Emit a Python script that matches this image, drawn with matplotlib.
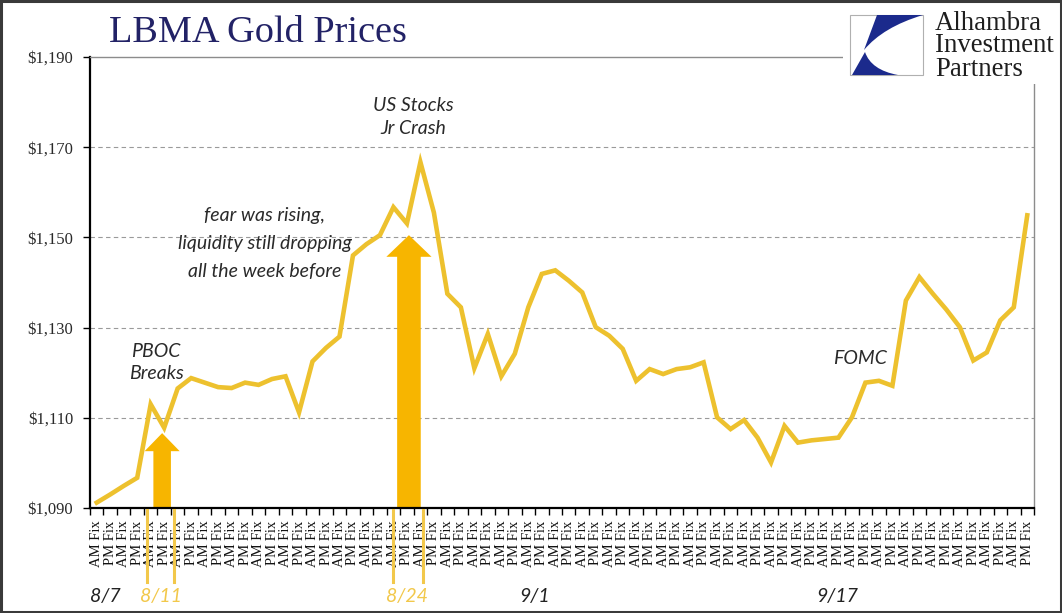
import matplotlib
matplotlib.use("Agg")
import matplotlib.pyplot as plt
from matplotlib.patches import Rectangle, Polygon, PathPatch
from matplotlib.path import Path
from matplotlib.transforms import blended_transform_factory

# ---- data -------------------------------------------------------------
sessions = ["AM Fix", "PM Fix"] * 35
prices = [
    1091.2, 1093.0, 1094.9, 1096.7, 1113.0, 1107.8, 1116.5, 1118.8, 1117.8, 1116.8,
    1116.6, 1117.8, 1117.3, 1118.6, 1119.2, 1111.2, 1122.5, 1125.5, 1128.0, 1146.0,
    1148.5, 1150.5, 1156.7, 1153.1, 1166.7, 1155.5, 1137.5, 1134.5, 1121.0, 1128.6,
    1119.2, 1124.2, 1134.5, 1141.9, 1142.7, 1140.4, 1137.8, 1130.1, 1128.2, 1125.3,
    1118.2, 1120.8, 1119.7, 1120.8, 1121.2, 1122.3, 1110.1, 1107.5, 1109.5, 1105.6,
    1100.1, 1108.2, 1104.5, 1105.0, 1105.3, 1105.6, 1110.1, 1117.8, 1118.2, 1117.1,
    1136.0, 1141.2, 1137.5, 1134.0, 1130.1, 1122.7, 1124.5, 1131.6, 1134.5, 1154.9,
]
y_ticks = [1090, 1110, 1130, 1150, 1170, 1190]
y_tick_labels = ["$1,090", "$1,110", "$1,130", "$1,150", "$1,170", "$1,190"]

date_labels = ["8/7", "8/11", "8/24", "9/1", "9/17"]
date_positions = [0.6, 4.75, 23.0, 32.5, 54.9]
date_highlight = [False, True, True, False, False]

# event markers: bracket lines under the axis, arrows rising to the event
event_brackets = [(3.75, 5.75), (22.0, 24.2)]
arrow_centres = [4.85, 23.15]
arrow_tips = [1106.6, 1150.5]

# (text, x, y, line spacing)
notes = [
    ("PBOC\nBreaks", 4.4, 1122.3, 1.4),
    ("fear was rising,\nliquidity still dropping\nall the week before", 12.45, 1148.6, 1.78),
    ("US Stocks\nJr Crash", 23.45, 1176.7, 1.45),
    ("FOMC", 56.6, 1123.2, 1.2),
]

# ---- style ------------------------------------------------------------
LINE_GOLD = "#EDC12E"
ARROW_GOLD = "#F7B500"
DATE_GOLD = "#F2C84B"
NAVY = "#222266"
LOGO_BLUE = "#1B2A8C"
SERIF = ["Liberation Serif", "DejaVu Serif"]
NOTE_FONT = ["Lato", "DejaVu Sans"]

W, H = 1062, 613
fig = plt.figure(figsize=(W / 100, H / 100), dpi=100)
fig.patch.set_facecolor("white")

left, right, bottom, top = 90, 1034, 508, 57
ax = fig.add_axes([left / W, 1 - bottom / H, (right - left) / W, (bottom - top) / H])

n = len(prices)
xs = list(range(n))
ax.plot(xs, prices, color=LINE_GOLD, lw=3.3, solid_joinstyle="miter", zorder=3)

ax.set_xlim(-0.5, n - 0.5)
ax.set_ylim(y_ticks[0], y_ticks[-1])

# gridlines
for v in y_ticks[1:-1]:
    ax.axhline(v, color="#9a9a9a", lw=0.8, ls=(0, (4, 3)), zorder=1)

# y axis
ax.set_yticks(y_ticks)
ax.set_yticklabels(y_tick_labels, fontfamily=SERIF, fontsize=12, color="#2a2a2a")
ax.tick_params(axis="y", direction="out", length=5, width=1, pad=7, color="black")

# x axis: labels per session, tick marks between sessions
ax.set_xticks(xs)
ax.set_xticklabels(sessions, rotation=90, fontfamily=SERIF, fontsize=10.5,
                   va="top", ha="center", color="#111111")
ax.tick_params(axis="x", which="major", length=0, pad=9)
ax.set_xticks([i - 0.5 for i in range(n + 1)], minor=True)
ax.tick_params(axis="x", which="minor", direction="out", length=5, width=1, color="black")

for side in ("left", "bottom"):
    ax.spines[side].set_color("black")
    ax.spines[side].set_linewidth(1.6)
for side in ("top", "right"):
    ax.spines[side].set_color("#8c8c8c")
    ax.spines[side].set_linewidth(1.0)

# event arrows rising from the axis
for xc, tip, shaft, head, head_len in zip(arrow_centres, arrow_tips, [1.3, 1.75], [2.6, 3.35], [4.0, 4.8]):
    base = y_ticks[0]
    neck = tip - head_len
    pts = [
        (xc - shaft / 2, base), (xc - shaft / 2, neck), (xc - head / 2, neck),
        (xc, tip), (xc + head / 2, neck), (xc + shaft / 2, neck), (xc + shaft / 2, base),
    ]
    ax.add_patch(Polygon(pts, closed=True, facecolor=ARROW_GOLD, edgecolor="none", zorder=2))

# brackets and dates below the axis
trans = blended_transform_factory(ax.transData, ax.transAxes)
for a, b in event_brackets:
    for xv in (a, b):
        ax.plot([xv, xv], [-0.005, -0.165], transform=trans, color=DATE_GOLD,
                lw=2.2, clip_on=False, zorder=4)
for lab, xp, hl in zip(date_labels, date_positions, date_highlight):
    ax.text(xp, -0.197, lab, transform=trans, ha="center", va="center",
            fontsize=14, style="italic", fontfamily=NOTE_FONT,
            color=DATE_GOLD if hl else "#222222")

for txt, xp, yp, ls in notes:
    ax.text(xp, yp, txt, ha="center", va="center", fontsize=14, style="italic",
            fontfamily=NOTE_FONT, color="#2a2a2a", linespacing=ls, zorder=5)

# title
fig.text(258 / W, 1 - 33 / H, "LBMA Gold Prices", ha="center", va="center",
         fontsize=27.5, fontfamily=SERIF, color=NAVY)

# logo block
lax = fig.add_axes([843 / W, 1 - 84 / H, (1060 - 843) / W, (84 - 3) / H])
lax.set_xlim(843, 1060)
lax.set_ylim(84, 3)
lax.set_facecolor("white")
lax.axis("off")
lax.add_patch(Rectangle((843, 3), 217, 81, facecolor="white", edgecolor="none", zorder=0))
lax.add_patch(Rectangle((850, 15), 73, 60, facecolor="white", edgecolor="#b0b0b0", lw=0.8, zorder=1))
upper = Path([(877, 15), (923, 15), (883, 27), (864, 50), (877, 15)],
             [Path.MOVETO, Path.LINETO, Path.CURVE3, Path.CURVE3, Path.CLOSEPOLY])
lower = Path([(865, 52), (852, 75), (898, 75), (871, 70), (865, 52)],
             [Path.MOVETO, Path.LINETO, Path.LINETO, Path.CURVE3, Path.CURVE3])
for p in (upper, lower):
    lax.add_patch(PathPatch(p, facecolor=LOGO_BLUE, edgecolor="none", zorder=2))
for i, word in enumerate(["Alhambra", "Investment", "Partners"]):
    lax.text(935, 23 + 23 * i, word, ha="left", va="center", fontsize=19.3,
             fontfamily=SERIF, color="#1e1e1e")

# outer frame
fig.patches.append(Rectangle((0.001, 0.001), 0.998, 0.997, transform=fig.transFigure,
                             fill=False, edgecolor="#3a3a3a", lw=2.2))

fig.savefig("out.png", dpi=100)
